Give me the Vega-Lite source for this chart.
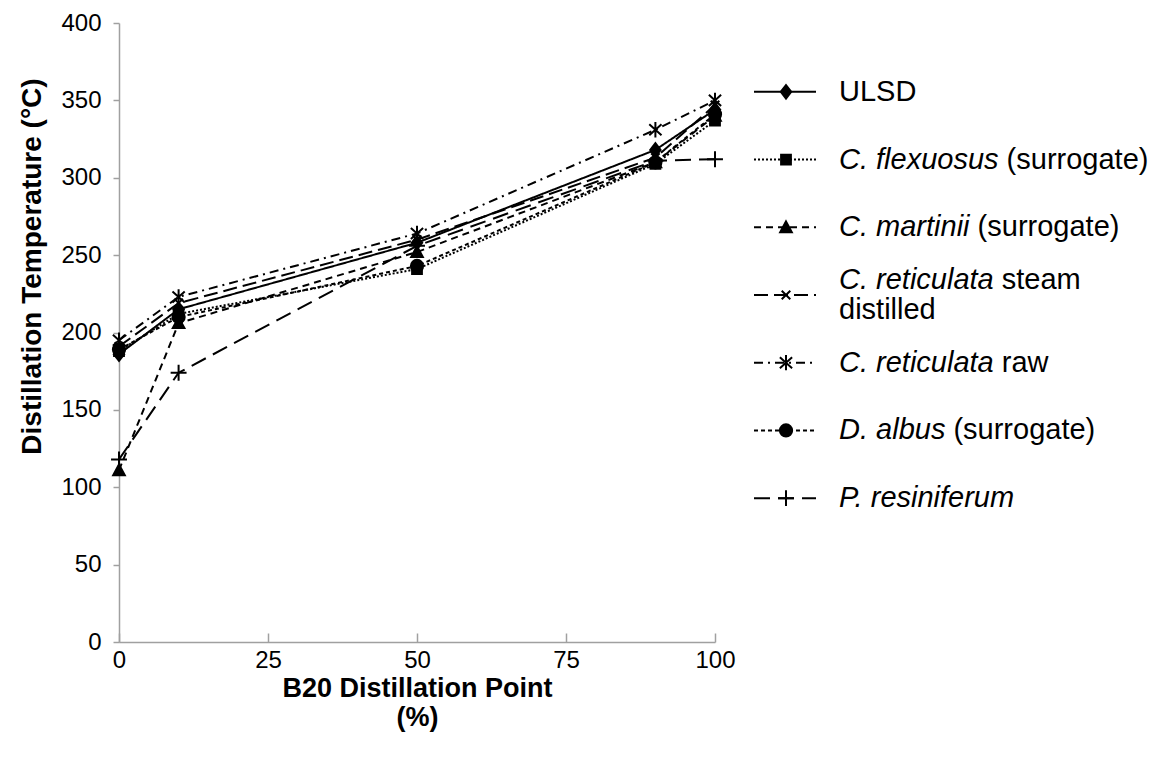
{
  "$schema": "https://vega.github.io/schema/vega-lite/v6.json",
  "autosize": {"type": "pad"},
  "padding": {"left": 18, "top": 11, "right": 0, "bottom": 10},
  "background": "white",
  "bounds": "flush",
  "spacing": 36,
  "datasets": {
    "temps": [
      {"series": "ULSD", "point": 0, "temp": 186},
      {"series": "ULSD", "point": 10, "temp": 215},
      {"series": "ULSD", "point": 50, "temp": 258},
      {"series": "ULSD", "point": 90, "temp": 318},
      {"series": "ULSD", "point": 100, "temp": 344},
      {"series": "C. flexuosus (surrogate)", "point": 0, "temp": 188},
      {"series": "C. flexuosus (surrogate)", "point": 10, "temp": 212},
      {"series": "C. flexuosus (surrogate)", "point": 50, "temp": 241},
      {"series": "C. flexuosus (surrogate)", "point": 90, "temp": 309},
      {"series": "C. flexuosus (surrogate)", "point": 100, "temp": 337},
      {"series": "C. martinii (surrogate)", "point": 0, "temp": 111},
      {"series": "C. martinii (surrogate)", "point": 10, "temp": 206},
      {"series": "C. martinii (surrogate)", "point": 50, "temp": 252},
      {"series": "C. martinii (surrogate)", "point": 90, "temp": 310},
      {"series": "C. martinii (surrogate)", "point": 100, "temp": 340},
      {"series": "C. reticulata steam distilled", "point": 0, "temp": 191},
      {"series": "C. reticulata steam distilled", "point": 10, "temp": 219},
      {"series": "C. reticulata steam distilled", "point": 50, "temp": 260},
      {"series": "C. reticulata steam distilled", "point": 90, "temp": 313},
      {"series": "C. reticulata steam distilled", "point": 100, "temp": 347},
      {"series": "C. reticulata raw", "point": 0, "temp": 195},
      {"series": "C. reticulata raw", "point": 10, "temp": 223},
      {"series": "C. reticulata raw", "point": 50, "temp": 264},
      {"series": "C. reticulata raw", "point": 90, "temp": 331},
      {"series": "C. reticulata raw", "point": 100, "temp": 350},
      {"series": "D. albus (surrogate)", "point": 0, "temp": 189},
      {"series": "D. albus (surrogate)", "point": 10, "temp": 210},
      {"series": "D. albus (surrogate)", "point": 50, "temp": 243},
      {"series": "D. albus (surrogate)", "point": 90, "temp": 310},
      {"series": "D. albus (surrogate)", "point": 100, "temp": 341},
      {"series": "P. resiniferum", "point": 0, "temp": 118},
      {"series": "P. resiniferum", "point": 10, "temp": 174},
      {"series": "P. resiniferum", "point": 50, "temp": 256},
      {"series": "P. resiniferum", "point": 90, "temp": 311},
      {"series": "P. resiniferum", "point": 100, "temp": 312}
    ],
    "legend": [
      {"series": "ULSD", "name": "ULSD", "note": ""},
      {"series": "C. flexuosus (surrogate)", "name": "C. flexuosus", "note": "(surrogate)"},
      {"series": "C. martinii (surrogate)", "name": "C. martinii", "note": "(surrogate)"},
      {"series": "C. reticulata steam distilled", "name": "C. reticulata", "note": "steam"},
      {"series": "C. reticulata raw", "name": "C. reticulata", "note": "raw"},
      {"series": "D. albus (surrogate)", "name": "D. albus", "note": "(surrogate)"},
      {"series": "P. resiniferum", "name": "P. resiniferum", "note": ""}
    ]
  },
  "hconcat": [
    {
      "width": 596,
      "height": 619,
      "data": {"name": "temps"},
      "encoding": {
        "x": {
          "field": "point", "type": "quantitative",
          "scale": {"domain": [0, 100], "nice": false},
          "axis": {"values": [0, 25, 50, 75, 100], "tickSize": -9, "labelPadding": 15, "labelFlush": false, "title": ["B20 Distillation Point", "(%)"], "titlePadding": 3, "titleLineHeight": 29, "titleFontSize": 27}
        },
        "y": {
          "field": "temp", "type": "quantitative",
          "scale": {"domain": [0, 400], "nice": false},
          "axis": {"values": [0, 50, 100, 150, 200, 250, 300, 350, 400], "tickSize": 6, "labelPadding": 12, "labelFlush": false, "title": "Distillation Temperature (°C)", "titlePadding": 14, "titleFontSize": 28, "titleY": 243}
        }
      },
      "layer": [
        {
          "mark": {"type": "line", "color": "black", "strokeWidth": 2},
          "encoding": {
            "strokeDash": {
              "field": "series", "type": "nominal", "legend": null,
              "scale": {
                "domain": ["ULSD", "C. flexuosus (surrogate)", "C. martinii (surrogate)", "C. reticulata steam distilled", "C. reticulata raw", "D. albus (surrogate)", "P. resiniferum"],
                "range": [[1, 0], [2, 2], [7, 5], [14, 6], [9, 5, 2, 5], [4, 3], [16, 8]]
              }
            }
          }
        },
        {
          "mark": {"type": "point", "filled": true, "color": "black", "stroke": "black", "strokeWidth": 2, "opacity": 1, "size": 150},
          "encoding": {
            "shape": {
              "field": "series", "type": "nominal", "legend": null,
              "scale": {
                "domain": ["ULSD", "C. flexuosus (surrogate)", "C. martinii (surrogate)", "C. reticulata steam distilled", "C. reticulata raw", "D. albus (surrogate)", "P. resiniferum"],
                "range": ["M0,-1.1L0.85,0L0,1.1L-0.85,0Z", "M-0.8,-0.8L0.8,-0.8L0.8,0.8L-0.8,0.8Z", "M0,-0.95L0.95,0.8L-0.95,0.8Z", "M-0.7,-0.7L0.7,0.7M-0.7,0.7L0.7,-0.7", "M-1,-0.9L1,0.9M-1,0.9L1,-0.9M0,-1.25L0,1.25", "circle", "M-1.3,0L1.3,0M0,-1.3L0,1.3"]
              }
            }
          }
        }
      ]
    },
    {
      "width": 409,
      "height": 619,
      "data": {"name": "legend"},
      "encoding": {
        "y": {
          "field": "series", "type": "nominal", "axis": null,
          "scale": {"domain": ["ULSD", "C. flexuosus (surrogate)", "C. martinii (surrogate)", "C. reticulata steam distilled", "C. reticulata raw", "D. albus (surrogate)", "P. resiniferum"], "range": [35, 509]}
        }
      },
      "layer": [
        {
          "mark": {"type": "rule", "color": "black", "strokeWidth": 2},
          "encoding": {
            "x": {"datum": 3, "type": "quantitative", "scale": {"domain": [0, 409], "nice": false}, "axis": null},
            "x2": {"datum": 65},
            "strokeDash": {
              "field": "series", "type": "nominal", "legend": null,
              "scale": {
                "domain": ["ULSD", "C. flexuosus (surrogate)", "C. martinii (surrogate)", "C. reticulata steam distilled", "C. reticulata raw", "D. albus (surrogate)", "P. resiniferum"],
                "range": [[1, 0], [2, 2], [7, 5], [14, 6], [9, 5, 2, 5], [4, 3], [16, 8]]
              }
            }
          }
        },
        {
          "mark": {"type": "point", "filled": true, "color": "black", "stroke": "black", "strokeWidth": 2, "opacity": 1, "size": 150},
          "encoding": {
            "x": {"datum": 35, "type": "quantitative"},
            "shape": {
              "field": "series", "type": "nominal", "legend": null,
              "scale": {
                "domain": ["ULSD", "C. flexuosus (surrogate)", "C. martinii (surrogate)", "C. reticulata steam distilled", "C. reticulata raw", "D. albus (surrogate)", "P. resiniferum"],
                "range": ["M0,-1.1L0.85,0L0,1.1L-0.85,0Z", "M-0.8,-0.8L0.8,-0.8L0.8,0.8L-0.8,0.8Z", "M0,-0.95L0.95,0.8L-0.95,0.8Z", "M-0.7,-0.7L0.7,0.7M-0.7,0.7L0.7,-0.7", "M-1,-0.9L1,0.9M-1,0.9L1,-0.9M0,-1.25L0,1.25", "circle", "M-1.3,0L1.3,0M0,-1.3L0,1.3"]
              }
            }
          }
        },
        {
          "transform": [{"filter": "datum.series == 'ULSD'"}],
          "mark": {"type": "text", "align": "left", "baseline": "middle", "font": "Liberation Sans", "fontSize": 29, "color": "black"},
          "encoding": {"x": {"datum": 88, "type": "quantitative"}, "text": {"field": "name"}}
        },
        {
          "transform": [{"filter": "datum.series != 'ULSD' && datum.series != 'C. reticulata steam distilled'"}],
          "mark": {"type": "text", "align": "left", "baseline": "middle", "font": "Liberation Sans", "fontSize": 29, "fontStyle": "italic", "color": "black"},
          "encoding": {"x": {"datum": 88, "type": "quantitative"}, "text": {"field": "name"}}
        },
        {
          "transform": [{"filter": "datum.series == 'C. reticulata steam distilled'"}],
          "mark": {"type": "text", "align": "left", "baseline": "middle", "font": "Liberation Sans", "fontSize": 29, "fontStyle": "italic", "color": "black", "dy": -15},
          "encoding": {"x": {"datum": 88, "type": "quantitative"}, "text": {"field": "name"}}
        },
        {
          "transform": [{"filter": "datum.series == 'C. reticulata steam distilled'"}],
          "mark": {"type": "text", "align": "left", "baseline": "middle", "font": "Liberation Sans", "fontSize": 29, "color": "black", "dy": -15, "dx": 162.8},
          "encoding": {"x": {"datum": 88, "type": "quantitative"}, "text": {"field": "note"}}
        },
        {
          "transform": [{"filter": "datum.series == 'C. reticulata steam distilled'"}],
          "mark": {"type": "text", "align": "left", "baseline": "middle", "font": "Liberation Sans", "fontSize": 29, "color": "black", "dy": 15},
          "encoding": {"x": {"datum": 88, "type": "quantitative"}, "text": {"value": "distilled"}}
        },
        {
          "transform": [{"filter": "datum.series == 'C. reticulata raw'"}],
          "mark": {"type": "text", "align": "left", "baseline": "middle", "font": "Liberation Sans", "fontSize": 29, "color": "black", "dx": 162.8},
          "encoding": {"x": {"datum": 88, "type": "quantitative"}, "text": {"field": "note"}}
        },
        {
          "transform": [{"filter": "datum.series == 'C. flexuosus (surrogate)'"}],
          "mark": {"type": "text", "align": "left", "baseline": "middle", "font": "Liberation Sans", "fontSize": 29, "color": "black", "dx": 167.6},
          "encoding": {"x": {"datum": 88, "type": "quantitative"}, "text": {"field": "note"}}
        },
        {
          "transform": [{"filter": "datum.series == 'C. martinii (surrogate)'"}],
          "mark": {"type": "text", "align": "left", "baseline": "middle", "font": "Liberation Sans", "fontSize": 29, "color": "black", "dx": 138.6},
          "encoding": {"x": {"datum": 88, "type": "quantitative"}, "text": {"field": "note"}}
        },
        {
          "transform": [{"filter": "datum.series == 'D. albus (surrogate)'"}],
          "mark": {"type": "text", "align": "left", "baseline": "middle", "font": "Liberation Sans", "fontSize": 29, "color": "black", "dx": 114.4},
          "encoding": {"x": {"datum": 88, "type": "quantitative"}, "text": {"field": "note"}}
        }
      ]
    }
  ],
  "config": {
    "view": {"stroke": null},
    "axis": {
      "grid": false,
      "domainColor": "#a0a0a0",
      "tickColor": "#a0a0a0",
      "domainWidth": 1.5,
      "tickWidth": 1.5,
      "labelColor": "black",
      "labelFont": "Liberation Sans",
      "labelFontSize": 24,
      "titleColor": "black",
      "titleFont": "Liberation Sans",
      "titleFontSize": 26,
      "titleFontWeight": "bold"
    }
  }
}
